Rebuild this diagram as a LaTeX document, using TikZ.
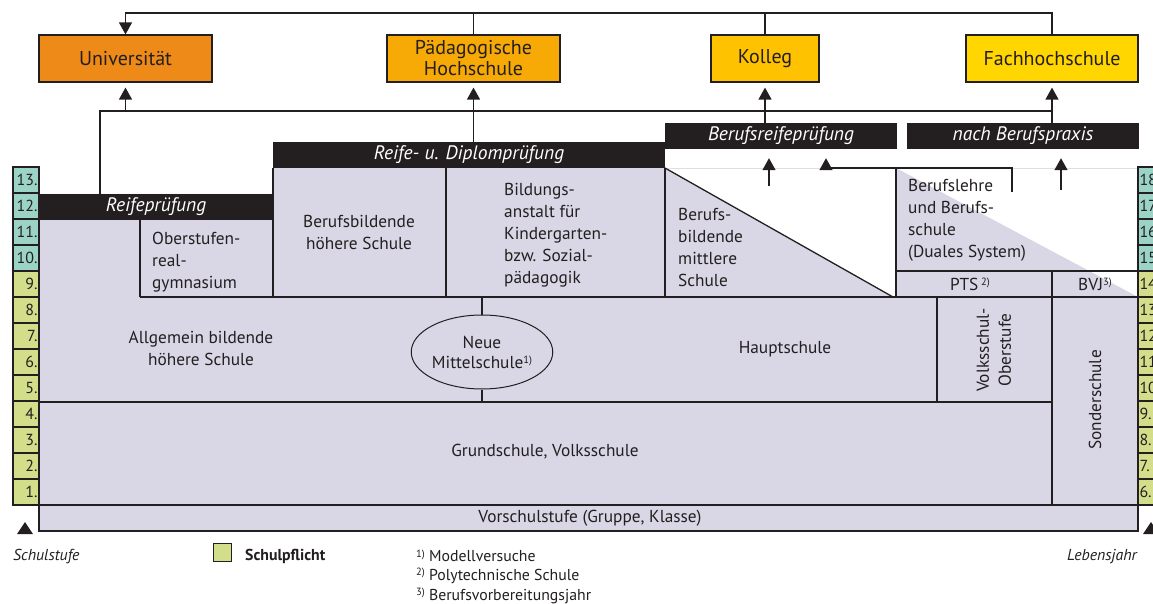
\documentclass[tikz,border=0pt]{standalone}
\usepackage{fontspec}
\setmainfont{PT Sans}
\usetikzlibrary{arrows.meta,shapes.geometric}
\definecolor{ln}{HTML}{231F20}
\definecolor{lav}{HTML}{D9D7E5}
\definecolor{tealc}{HTML}{9BD4C7}
\definecolor{grn}{HTML}{D3DE8B}
\definecolor{unic}{HTML}{EE8A18}
\definecolor{phc}{HTML}{F7AA05}
\definecolor{kolc}{HTML}{FFC200}
\definecolor{fhc}{HTML}{FFD600}
\newcommand\fnote[1]{\raisebox{0.55ex}{\fontsize{10.5}{10.5}\selectfont #1)}}
\tikzset{
 conn/.style={draw=ln, line width=1.3pt},
 arr/.style={conn, -{Triangle[length=12pt,width=13pt]}},
 topbox/.style={draw=ln, line width=1.2pt, inner sep=0pt, align=center, text=ln, font=\fontsize{20}{21}\selectfont},
 bar/.style={fill=ln, text=white, inner sep=0pt, font=\fontsize{19.5}{20}\selectfont\itshape},
 lbl/.style={text=ln, inner sep=0pt, font=\fontsize{17.3}{22}\selectfont},
 numcell/.style={draw=ln, line width=1.2pt, minimum width=26pt, minimum height=26pt, inner sep=0pt, text width=23pt, font=\fontsize{16}{16}\selectfont, text=ln},
 legend/.style={text=ln, inner sep=0pt, font=\fontsize{15.8}{20}\selectfont},
}
\begin{document}
\begin{tikzpicture}[x=1pt,y=-1pt]
\useasboundingbox (0,0) rectangle (1153,604);
\clip (0,0) rectangle (1153,604);
\fill[white] (0,0) rectangle (1153,604);

% lavender area
\fill[lav] (39,194) -- (273,194) -- (273,168) -- (665,168) -- (893,297) -- (896,297) -- (896,168) -- (1138,297) -- (1138,531) -- (39,531) -- cycle;
\draw[gray!25, line width=0.6pt] (665,168) -- (1138,168);

% top boxes
\node[topbox, fill=unic, minimum width=173pt, minimum height=47pt] (uni) at (125.5,58.5) {Universität};
\node[topbox, fill=phc, minimum width=173pt, minimum height=47pt] (ph) at (473.5,58.5) {Pädagogische\\Hochschule};
\node[topbox, fill=kolc, minimum width=108pt, minimum height=47pt] (kol) at (765,58.5) {Kolleg};
\node[topbox, fill=fhc, minimum width=172pt, minimum height=47pt] (fh) at (1052,58.5) {Fachhochschule};

\coordinate (top) at (0,13);
\coordinate (mid) at (0,111);
\coordinate (rpL) at (100,194);

% upper connectors
\draw[arr] (fh.north) |- (uni.north |- top) -- (uni.north);
\draw[conn] (ph.north) -- (ph.north |- top);
\draw[conn] (kol.north) -- (kol.north |- top);

% second level
\draw[conn] (rpL) |- (fh.south |- mid) -- (fh.south |- 0,130);
\draw[arr, shorten >=5pt] (uni.south |- mid) -- (uni.south);
\draw[arr, shorten >=5pt] (ph.south |- 0,150) -- (ph.south);
\draw[arr, shorten >=5pt] (kol.south |- 0,130) -- (kol.south);
\draw[arr, shorten >=5pt] (fh.south |- mid) -- (fh.south);

% bars
\node[bar, minimum width=234pt, minimum height=26pt] (rp) at (156,207) {Reifeprüfung};
\node[bar, minimum width=392pt, minimum height=26pt] (rdp) at (469,155) {Reife- u. Diplomprüfung};
\node[bar, minimum width=232pt, minimum height=26pt] (brp) at (781,136) {Berufsreifeprüfung};
\node[bar, minimum width=232pt, minimum height=26pt] (nbp) at (1023,136) {nach Berufspraxis};

% lower arrows
\coordinate (bmsA) at (769,186);
\coordinate (blA) at (1012,192);
\coordinate (blB) at (826,168);
\coordinate (nbA) at (1061,190);
\draw[arr, shorten >=9pt] (bmsA) -- (bmsA |- brp.south);
\draw[arr, shorten >=9pt] (blA) |- (blB) -- (blB |- brp.south);
\draw[arr, shorten >=9pt] (nbA) -- (nbA |- nbp.south);

% structure lines
\draw[conn] (39,505) -- (39,531) -- (1138,531) -- (1138,505);
\draw[conn] (39,505) -- (1138,505);
\draw[conn] (39,402) -- (1052,402);
\draw[conn] (140,297) -- (1138,297);
\draw[conn] (140,220) -- (140,297);
\draw[conn] (273,168) -- (273,297);
\draw[conn] (446,168) -- (446,297);
\draw[conn] (665,168) -- (665,297);
\draw[conn] (665,168) -- (893,297);
\draw[conn] (896,168) -- (896,297);
\draw[conn] (896,271) -- (1138,271);
\draw[conn] (1052,271) -- (1052,505);
\draw[conn] (937,297) -- (937,402);

% Neue Mittelschule
\node[draw=ln, line width=1pt, ellipse, minimum width=140pt, minimum height=74pt, inner sep=0pt, align=center, text=ln, font=\fontsize{17.3}{20}\selectfont] (nms) at (482,352) {Neue\\Mittelschule\fnote{1}};
\draw[conn] (nms.north) -- (nms.north |- 0,297);
\draw[conn] (nms.south) -- (nms.south |- 0,402);

% left column
\foreach \n [count=\i from 0] in {13,12,11,10}
  \node[numcell, fill=tealc, align=right] (L\n) at (26,180+26*\i) {\n.};
\foreach \n [count=\i from 4] in {9,8,7,6,5,4,3,2,1}
  \node[numcell, fill=grn, align=right] (L\n) at (26,180+26*\i) {\n.};
% right column
\foreach \n [count=\i from 0] in {18,17,16,15}
  \node[numcell, fill=tealc, align=left] (R\n) at (1151,180+26*\i) {\n.};
\foreach \n [count=\i from 4] in {14,13,12,11,10,9,8,7,6}
  \node[numcell, fill=grn, align=left] (R\n) at (1151,180+26*\i) {\n.};

% labels
\node[lbl, align=left, anchor=west] (osg) at (152,262) {Oberstufen-\\real-\\gymnasium};
\node[lbl, align=center] (ahs) at (201,348) {Allgemein bildende\\höhere Schule};
\node[lbl, align=center] (bhs) at (359,232) {Berufsbildende\\höhere Schule};
\node[lbl, align=left, anchor=west] (bak) at (504,235) {Bildungs-\\anstalt für\\Kindergarten-\\bzw. Sozial-\\pädagogik};
\node[lbl, align=left, anchor=west] (bms) at (678,247) {Berufs-\\bildende\\mittlere\\Schule};
\node[lbl, align=left, anchor=west] (bl) at (908,220) {Berufslehre\\und Berufs-\\schule\\(Duales System)};
\node[lbl] (pts) at (970,284) {PTS\,\fnote{2}};
\node[lbl] (bvj) at (1095,284) {BVJ\fnote{3}};
\node[lbl] (hs) at (785,349) {Hauptschule};
\node[lbl, align=center, rotate=90] (vso) at (994,350) {Volksschul-\\Oberstufe};
\node[lbl, rotate=90] (ss) at (1095,400) {Sonderschule};
\node[lbl] (gs) at (545,452) {Grundschule, Volksschule};
\node[lbl] (vs) at (590,518) {Vorschulstufe (Gruppe, Klasse)};

% small triangles
\fill[ln] (17,534) -- (33,534) -- (25,522) -- cycle;
\fill[ln] (1143,534) -- (1159,534) -- (1151,522) -- cycle;

% legend
\node[legend, anchor=west, font=\fontsize{15.8}{20}\selectfont\itshape] (lss) at (13,557) {Schulstufe};
\node[draw=ln, fill=grn, line width=1pt, minimum size=18pt, inner sep=0pt] (lsq) at (222,552) {};
\node[legend, anchor=west, font=\fontsize{15.8}{20}\selectfont\bfseries] (lsp) at (245,556) {Schulpflicht};
\node[legend, anchor=west] (f1) at (416,556) {\fnote{1} Modellversuche};
\node[legend, anchor=west] (f2) at (416,576) {\fnote{2} Polytechnische Schule};
\node[legend, anchor=west] (f3) at (416,596) {\fnote{3} Berufsvorbereitungsjahr};
\node[legend, anchor=east, font=\fontsize{15.8}{20}\selectfont\itshape] (llj) at (1137,557) {Lebensjahr};
\end{tikzpicture}
\end{document}
